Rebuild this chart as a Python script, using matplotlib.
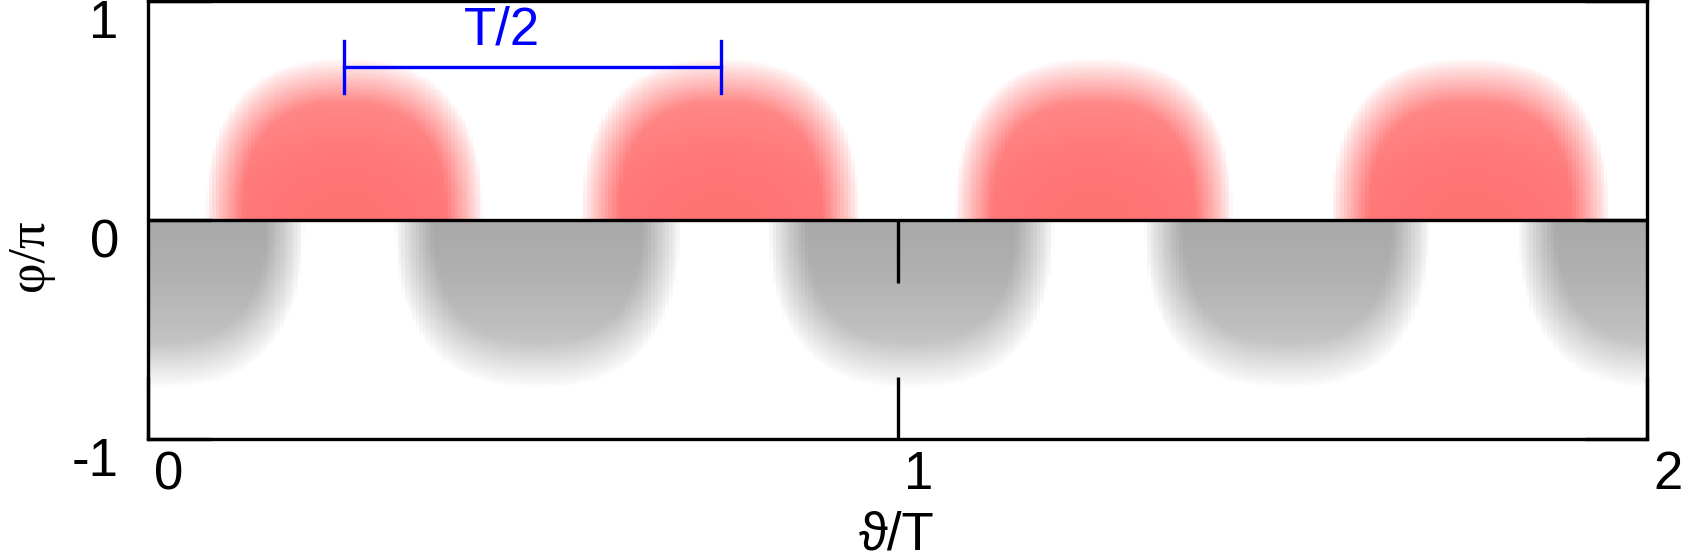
import matplotlib
matplotlib.use('Agg')
import matplotlib.pyplot as plt
from matplotlib.transforms import ScaledTranslation
import numpy as np

plt.rcParams['font.family'] = ['Liberation Sans', 'DejaVu Sans']

# blob layout (theta/T, phi/pi)
red_centers = [0.262, 0.764, 1.262, 1.764]
gray_centers = [-0.482, 0.018, 0.52, 1.018, 1.52, 2.018]
red_halfwidth = 0.185
red_height = 0.735
gray_halfwidth = 0.19
gray_depth = 0.765
red_rgb = np.array([1.0, 0.447, 0.447])
gray_rgb = np.array([0.665, 0.665, 0.665])

x_ticks = [0, 1, 2]
y_ticks = [-1, 0, 1]
x_ticklabels = ['0', '1', '2']
y_ticklabels = ['-1', '0', '1']

# raster grid (coarse columns like the original)
nx, ny = 420, 240
xs = (np.arange(nx) + 0.5) / nx * 2.0
ys = -1 + (np.arange(ny) + 0.5) / ny * 2.0
X, Y = np.meshgrid(xs, ys)


def blob_alpha(dx, dy, a, b):
    d = ((np.abs(dx) / a) ** 2.5 + (np.abs(dy) / b) ** 2.5) ** (1 / 2.5)
    edge = np.clip((1 - d) / 0.27, 0, 1) ** 0.8
    return edge, d


red_a = np.zeros_like(X)
for c in red_centers:
    edge, d = blob_alpha(X - c, Y, red_halfwidth, red_height)
    inner = 1 - 0.3 * (Y / red_height) ** 2 - 0.1 * ((X - c) / red_halfwidth) ** 2
    red_a = np.maximum(red_a, edge * inner)
red_a[Y < 0] = 0

gray_a = np.zeros_like(X)
for c in gray_centers:
    edge, d = blob_alpha(X - c, Y, gray_halfwidth, gray_depth)
    inner = 1 - 0.5 * (np.abs(Y) / gray_depth) ** 1.5
    gray_a = np.maximum(gray_a, edge * inner)
gray_a[Y > 0] = 0

img = np.ones((ny, nx, 3))
img -= red_a[..., None] * (1 - red_rgb)
img -= gray_a[..., None] * (1 - gray_rgb)

fig = plt.figure(figsize=(16.84, 5.59), dpi=100)
ax = fig.add_axes([148 / 1684, 1 - 439 / 559, 1499 / 1684, 438 / 559])
ax.imshow(img, extent=[0, 2, -1, 1], origin='lower', aspect='auto',
          interpolation='nearest', zorder=0)
ax.set_xlim(0, 2)
ax.set_ylim(-1, 1)

ax.axhline(0, color='black', lw=2.4, zorder=3)
ax.vlines(1, -0.288, 0, color='black', lw=2.4, zorder=3)

# T/2 marker between the first two red blobs
bar_y = 0.697
ax.plot([red_centers[0], red_centers[1]], [bar_y, bar_y], color='#0000ff', lw=2.4)
for xc in red_centers[:2]:
    ax.plot([xc, xc], [0.58, 0.817], color='#0000ff', lw=2.4)
ax.text(0.472, 0.867, 'T/2', color='#0000ff', fontsize=38, ha='center', va='center')

for s in ax.spines.values():
    s.set_linewidth(2.4)
ax.set_xticks(x_ticks)
ax.set_xticklabels(x_ticklabels)
ax.set_yticks(y_ticks)
ax.set_yticklabels(y_ticklabels)
ax.tick_params(axis='both', direction='in', length=45, width=2.4, labelsize=38)
ax.tick_params(axis='x', pad=8)
ax.tick_params(axis='y', right=True, pad=21)

for lab in ax.get_xticklabels():
    lab.set_transform(lab.get_transform() + ScaledTranslation(0.21, 0, fig.dpi_scale_trans))
for lab in ax.get_yticklabels():
    lab.set_transform(lab.get_transform() + ScaledTranslation(0, -0.18, fig.dpi_scale_trans))

fig.text(30 / 1684, 1 - 255 / 559, 'φ/π', fontsize=38, rotation=90,
         ha='center', va='center', family=['Liberation Serif', 'DejaVu Serif'])
fig.text(897 / 1684, 1 - 535 / 559, 'ϑ/T', fontsize=38, ha='center', va='center')

fig.savefig('out.png', dpi=100)
